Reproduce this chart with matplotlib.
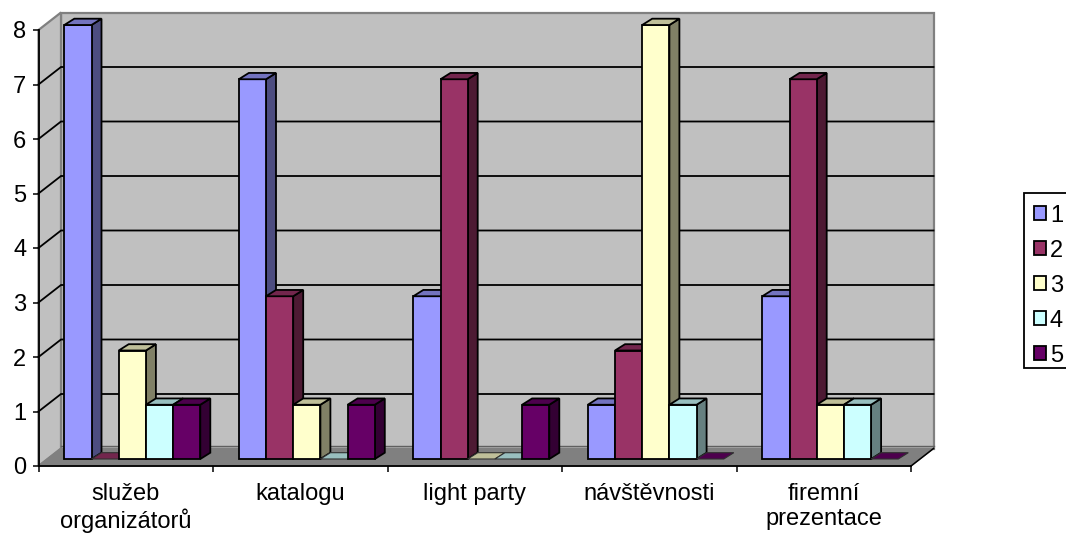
import matplotlib
matplotlib.use("Agg")
import matplotlib.pyplot as plt
from matplotlib.patches import Polygon, Patch, Rectangle
import numpy as np

categories = ["služeb\norganizátorů", "katalogu", "light party", "návštěvnosti", "firemní\nprezentace"]
series_names = ["1", "2", "3", "4", "5"]
s1 = [8, 7, 3, 1, 3]
s2 = [0, 3, 7, 2, 7]
s3 = [2, 1, 0, 8, 1]
s4 = [1, 0, 0, 1, 1]
s5 = [1, 1, 1, 0, 0]
series = [s1, s2, s3, s4, s5]
colors = ["#9999FF", "#993366", "#FFFFCC", "#CCFFFF", "#660066"]

W, H = 1066, 535
plt.rcParams['font.family'] = ['Liberation Sans', 'DejaVu Sans']
FS = 17
fig = plt.figure(figsize=(W / 100, H / 100), dpi=100)
L, R, B, T = 38.5, 911.0, 466.0, 30.0
ax = fig.add_axes([L / W, 1 - B / H, (R - L) / W, (B - T) / H])
ax.set_xlim(0, len(categories))
ax.set_ylim(0, 8)
ax.patch.set_visible(False)

px_x = len(categories) / (R - L)
px_y = 8 / (B - T)
wall_dx, wall_dy = 22.5 * px_x, 17.5 * px_y
depth_dx, depth_dy = 10 * px_x, 6.3 * px_y
bar_w = 27.2 * px_x
bar_x0 = 25.8 * px_x
bar_base = 7 * px_y
bar_scale = 54.25 / 54.5
n = len(categories)
ymax = 8


def poly(pts, fc, ec, lw=1.0, z=1):
    ax.add_patch(Polygon(pts, closed=True, facecolor=fc, edgecolor=ec, linewidth=lw,
                         zorder=z, clip_on=False, joinstyle='miter'))


def shade(c, f):
    return tuple(v * f for v in matplotlib.colors.to_rgb(c))


GREY = "#808080"
# back wall, side wall, floor
poly([(wall_dx, wall_dy), (n + wall_dx, wall_dy), (n + wall_dx, ymax + wall_dy), (wall_dx, ymax + wall_dy)],
     "#C0C0C0", GREY, 1.6, 1)
poly([(0, 0), (wall_dx, wall_dy), (wall_dx, ymax + wall_dy), (0, ymax)], "#C0C0C0", GREY, 1.6, 1)
poly([(0, 0), (n, 0), (n + wall_dx, wall_dy), (wall_dx, wall_dy)], GREY, GREY, 1.0, 1.2)

for v in range(1, ymax):
    ax.plot([0, wall_dx, n + wall_dx], [v, v + wall_dy, v + wall_dy], color="black", lw=1.3,
            zorder=1.5, clip_on=False, solid_joinstyle='miter')
ax.plot([wall_dx, n + wall_dx], [wall_dy + 0.04, wall_dy + 0.04], color="#606060", lw=1.0, zorder=1.5, clip_on=False)
ax.plot([n, n + wall_dx], [0, wall_dy], color="black", lw=1.1, zorder=1.5, clip_on=False)

# bars
for c in range(n):
    for s, vals in enumerate(series):
        v = vals[c]
        x0 = c + bar_x0 + s * bar_w
        x1 = x0 + bar_w
        y0 = bar_base
        y1 = bar_base + v * bar_scale
        col = colors[s]
        z = 3 + c * 10 + s
        if v > 0:
            poly([(x1, y0), (x1 + depth_dx, y0 + depth_dy), (x1 + depth_dx, y1 + depth_dy), (x1, y1)],
                 shade(col, 0.5), "black", 1.3, z)
            poly([(x0, y0), (x1, y0), (x1, y1), (x0, y1)], col, "black", 1.3, z)
            poly([(x0, y1), (x1, y1), (x1 + depth_dx, y1 + depth_dy), (x0 + depth_dx, y1 + depth_dy)],
                 shade(col, 0.75), "black", 1.3, z)
        else:
            poly([(x0, y1), (x1, y1), (x1 + depth_dx, y1 + depth_dy), (x0 + depth_dx, y1 + depth_dy)],
                 shade(col, 0.75), "#303030", 0.8, z)

# axes
for sp in ("top", "right"):
    ax.spines[sp].set_visible(False)
for sp in ("left", "bottom"):
    ax.spines[sp].set_linewidth(1.3)
    ax.spines[sp].set_zorder(2)
ax.set_yticks(range(0, ymax + 1))
ax.tick_params(axis='y', length=4.2, width=1.1, labelsize=FS, pad=4.5)
ax.set_xticks(range(0, n + 1))
ax.set_xticklabels([])
ax.set_xticks(np.arange(n) + 0.5, minor=True)
ax.set_xticklabels(categories, minor=True, fontsize=FS, linespacing=1.2)
ax.tick_params(axis='x', which='major', length=4.2, width=1.1)
ax.tick_params(axis='x', which='minor', length=0, pad=12)

# legend: frame drawn separately so it runs off the right edge of the figure as in the reference
fig.add_artist(Rectangle((1024 / W, 1 - 368 / H), 60 / W, 175 / H, transform=fig.transFigure,
                         facecolor="white", edgecolor="black", linewidth=1.3))
handles = [Patch(facecolor=c, edgecolor="black", linewidth=1.3) for c in colors]
leg = fig.legend(handles, series_names, loc='upper left',
                 bbox_to_anchor=(1024 / W, 1 - 194.7 / H), bbox_transform=fig.transFigure,
                 fontsize=FS, frameon=False,
                 handlelength=0.51, handleheight=0.51, handletextpad=0.17,
                 labelspacing=0.55, borderpad=0.42, borderaxespad=0)

fig.savefig("out.png", dpi=100)
